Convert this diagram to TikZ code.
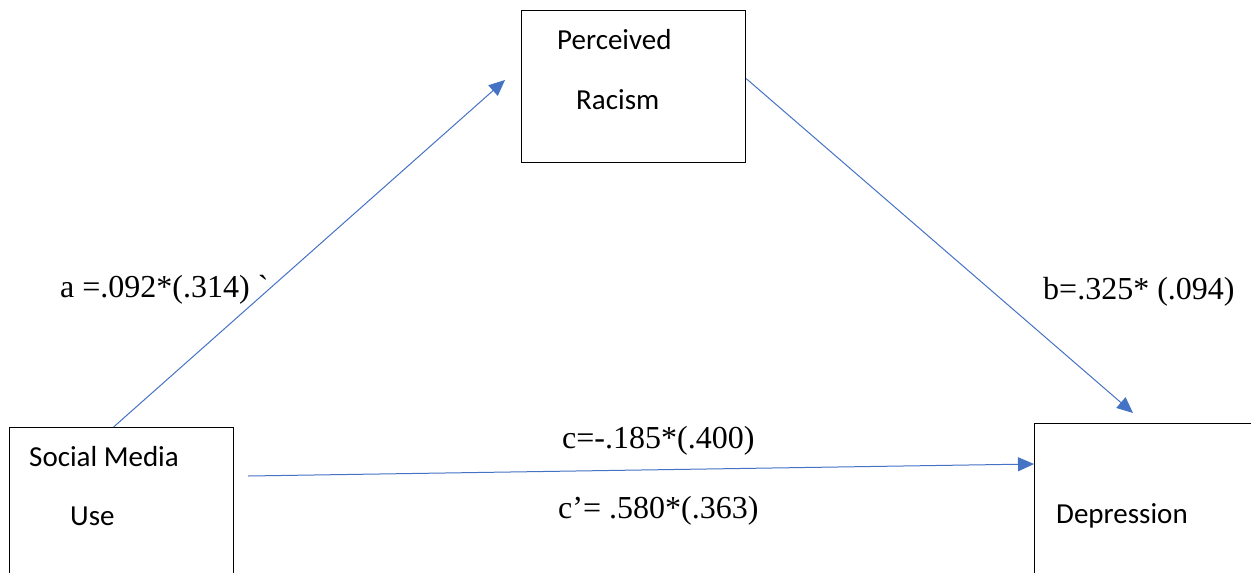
\documentclass[tikz,border=0pt]{standalone}
\usepackage{fontspec}
\usetikzlibrary{arrows.meta}
\setsansfont{Carlito}
\newfontfamily\lblfont[Ligatures=TeXOff]{Liberation Serif}
\definecolor{arrowblue}{HTML}{4472C4}

\begin{document}
\begin{tikzpicture}[x=1pt,y=-1pt,box/.style={draw,line width=1.2pt,minimum width=224pt,
inner sep=0pt,anchor=north west},boxtext/.style={font=\sffamily\fontsize{29}{35}\selectfont,
anchor=base west,inner sep=0pt},lbl/.style={font=\lblfont\fontsize{32}{38}\selectfont,
anchor=base west,inner sep=0pt},arr/.style={-{Triangle[length=16pt,width=14pt]},color=arrowblue,line width=1pt}]
\clip (0,0) rectangle (1251,573);
\node[box,minimum height=152pt] (racism) at (521,10) {};
\node[box,minimum height=180pt] (social) at (9,427) {};
\node[box,minimum height=180pt,minimum width=300pt] (depression) at (1034,423) {};
\node[boxtext] (perceived) at (557,49) {Perceived};
\node[boxtext] (racismtxt) at (576,109) {Racism};
\node[boxtext] (socialtxt) at (29,466) {Social Media};
\node[boxtext] (usetxt) at (70,525) {Use};
\node[boxtext] (depressiontxt) at (1056,523) {Depression};
\node[lbl] (alabel) at (60,297) {a =.092*(.314) `};
\node[lbl] (blabel) at (1043,299) {b=.325* (.094)};
\node[lbl] (clabel) at (562,448) {c=-.185*(.400)};
\node[lbl] (cplabel) at (558,518) {c’= .580*(.363)};
\coordinate (atip) at (505,80);
\coordinate (btip) at (1133,413);
\draw[arr] ([shift={(-8,0)}]social.north)--(atip);
\draw[arr] ([shift={(0,-8)}]racism.east)--(btip);
\draw[arr] ([shift={(14,49)}]social.north east)--([shift={(0,41)}]depression.north west);
\end{tikzpicture}
\end{document}
